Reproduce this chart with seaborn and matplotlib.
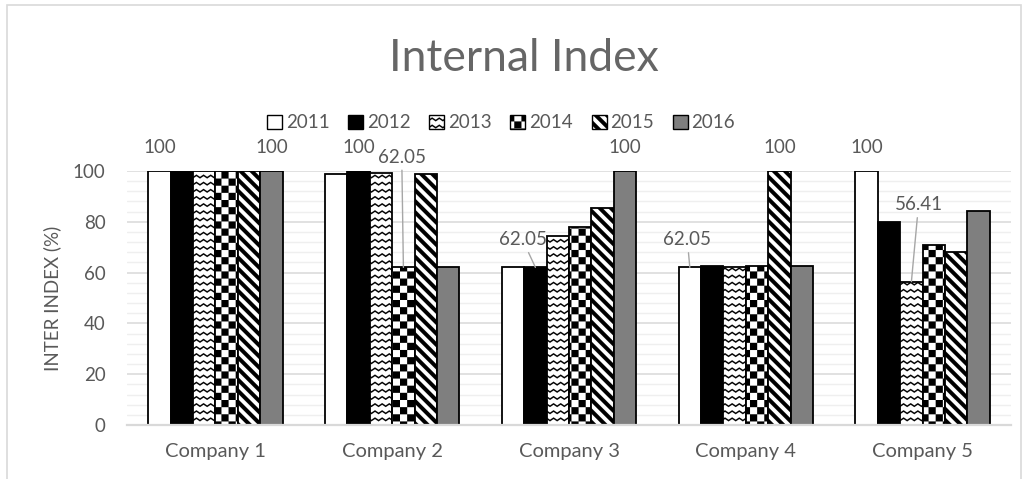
import numpy as np
import pandas as pd
import matplotlib
matplotlib.use("Agg")
import matplotlib.pyplot as plt
import matplotlib.hatch as mhatch
from matplotlib.path import Path
from matplotlib.patches import Patch, Rectangle
from matplotlib.ticker import MultipleLocator
import seaborn as sns

# ---- data -------------------------------------------------------------
companies = ["Company 1", "Company 2", "Company 3", "Company 4", "Company 5"]
years = ["2011", "2012", "2013", "2014", "2015", "2016"]
idx_2011 = [100, 98.7, 62.05, 62.05, 100]
idx_2012 = [100, 100, 62.05, 62.5, 79.9]
idx_2013 = [100, 99.2, 74.4, 62.2, 56.41]
idx_2014 = [100, 62.05, 77.8, 62.5, 71.0]
idx_2015 = [100, 99.0, 85.6, 100, 68.2]
idx_2016 = [100, 62.2, 100, 62.5, 84.2]
series = [idx_2011, idx_2012, idx_2013, idx_2014, idx_2015, idx_2016]

# ---- custom fill patterns (wave, checkerboard, bold diagonal) ----------
class _FilledHatch(mhatch.HatchPatternBase):
    key = ""

    def __init__(self, hatch, density):
        self.polys = self.make() if (hatch and self.key in hatch) else []
        self.num_vertices = sum(len(p) + 1 for p in self.polys)

    def make(self):
        return []

    def set_vertices_and_codes(self, vertices, codes):
        i = 0
        for p in self.polys:
            n = len(p)
            vertices[i:i + n] = p
            vertices[i + n] = p[0]
            codes[i] = Path.MOVETO
            codes[i + 1:i + n] = Path.LINETO
            codes[i + n] = Path.CLOSEPOLY
            i += n + 1


class WaveHatch(_FilledHatch):
    key = "o"

    def make(self):
        rows, waves = 14, 14
        amp, th = 0.024, 0.017
        xs = np.linspace(0, 1, 2 * waves + 1)
        ys = np.where(np.arange(len(xs)) % 2 == 1, amp, 0.0)
        polys = []
        for r in range(-1, rows + 1):
            y0 = r / rows
            bottom = np.column_stack([xs, y0 + ys])
            top = np.column_stack([xs[::-1], y0 + ys[::-1] + th])
            polys.append(np.vstack([bottom, top]))
        return polys


class CheckerHatch(_FilledHatch):
    key = "O"

    def make(self):
        n = 14
        s = 1.0 / n
        return [np.array([[i * s, j * s], [(i + 1) * s, j * s],
                          [(i + 1) * s, (j + 1) * s], [i * s, (j + 1) * s]])
                for i in range(n) for j in range(n) if (i + j) % 2 == 0]


class StripeHatch(_FilledHatch):
    key = "\\"

    def make(self):
        m = 9
        w = 0.5 / m
        polys = []
        for k in range(-1, 2 * m + 2):
            c = k / m
            polys.append(np.array([[-0.2, c + 0.2], [1.2, c - 1.2],
                                   [1.2, c + w - 1.2], [-0.2, c + w + 0.2]]))
        return polys


mhatch._hatch_types[:] = [WaveHatch, CheckerHatch, StripeHatch]

# ---- style --------------------------------------------------------------
sns.set_style("white")
plt.rcParams["font.family"] = ["Lato", "DejaVu Sans"]
plt.rcParams["hatch.linewidth"] = 0.05
TXT = "#595959"

face_colors = {"2011": "white", "2012": "black", "2013": "white",
               "2014": "white", "2015": "white", "2016": "#7f7f7f"}
hatches = {"2011": None, "2012": None, "2013": "o",
           "2014": "O", "2015": "\\", "2016": None}

df = pd.DataFrame({
    "Company": np.repeat(companies, len(years)),
    "Year": np.tile(years, len(companies)),
    "Index": [series[j][i] for i in range(len(companies)) for j in range(len(years))],
})

W, H = 1029, 479
fig = plt.figure(figsize=(W / 100, H / 100), dpi=100)
ax = fig.add_axes([127 / W, (H - 425) / H, (1011 - 127) / W, (425 - 171) / H])

sns.barplot(data=df, x="Company", y="Index", hue="Year", hue_order=years,
            palette=face_colors, saturation=1, width=0.76, edgecolor="black",
            linewidth=1.3, legend=False, ax=ax)

for year, cont in zip(years, ax.containers):
    for bar in cont.patches:
        bar.set_edgecolor("black")
        if hatches[year]:
            bar.set_hatch(hatches[year])

ax.set_ylim(0, 100)
ax.set_xlim(-0.5, len(companies) - 0.5)
ax.yaxis.set_major_locator(MultipleLocator(20))
ax.yaxis.set_minor_locator(MultipleLocator(4))
ax.grid(which="major", axis="y", color="#d9d9d9", lw=1.1)
ax.grid(which="minor", axis="y", color="#efefef", lw=1.0)
ax.set_axisbelow(True)
for s in ["top", "right", "left"]:
    ax.spines[s].set_visible(False)
ax.spines["bottom"].set_color("#d9d9d9")
ax.spines["bottom"].set_linewidth(1.6)
ax.tick_params(axis="y", which="both", length=0, pad=15.5, labelsize=13.5, labelcolor=TXT)
ax.tick_params(axis="x", length=0, pad=13, labelsize=14.5, labelcolor=TXT)
ax.set_xlabel("")
ax.set_ylabel("INTER INDEX (%)", fontsize=13.5, color=TXT)
ax.yaxis.label.set_verticalalignment("center")
ax.yaxis.set_label_coords((52 - 127) / (1011 - 127), 0.5)


def bar_of(ci, yi):
    b = ax.containers[yi].patches[ci]
    return b.get_x() + b.get_width() / 2, b.get_height()


# value labels sitting just above a bar
top_labels = [(0, 0), (0, 5), (1, 1), (2, 5), (3, 4), (4, 0)]
for ci, yi in top_labels:
    x, v = bar_of(ci, yi)
    ax.text(x, v + 9.4, f"{v:g}", ha="center", va="center", fontsize=13.5,
            color=TXT, clip_on=False)

# value labels with leader lines: (company, year, text x, text y)
leader_labels = [(1, 3, 1.054, 105.5), (2, 1, 1.737, 73.0),
                 (3, 0, 2.669, 73.0), (4, 2, 3.977, 86.8)]
for ci, yi, tx, ty in leader_labels:
    x, v = bar_of(ci, yi)
    ax.annotate(f"{v:.2f}", xy=(x, v), xytext=(tx, ty), ha="center", va="center",
                fontsize=13.5, color=TXT, annotation_clip=False,
                arrowprops=dict(arrowstyle="-", color="#a6a6a6", lw=1.0,
                                shrinkA=1, shrinkB=0))

# legend
handles = [Patch(facecolor=face_colors[y], edgecolor="black", lw=1.0,
                 hatch=hatches[y]) for y in years]
fig.legend(handles, years, ncol=6, loc="center",
           bbox_to_anchor=(501 / W, 1 - 123 / H), bbox_transform=fig.transFigure,
           frameon=False, fontsize=13.5, labelcolor=TXT, handlelength=0.8,
           handleheight=0.8, handletextpad=0.2, columnspacing=1.0,
           borderaxespad=0, borderpad=0)

fig.text(523.5 / W, 1 - 70.7 / H, "Internal Index", ha="center", va="baseline",
         fontsize=32, color="#666666", fontweight="normal")

fig.patches.append(Rectangle((7 / W, -0.05), (1021 - 7) / W, 1.05 - 5 / H,
                             transform=fig.transFigure, fill=False,
                             edgecolor="#d9d9d9", lw=1.2))

fig.savefig("out.png", dpi=100)
